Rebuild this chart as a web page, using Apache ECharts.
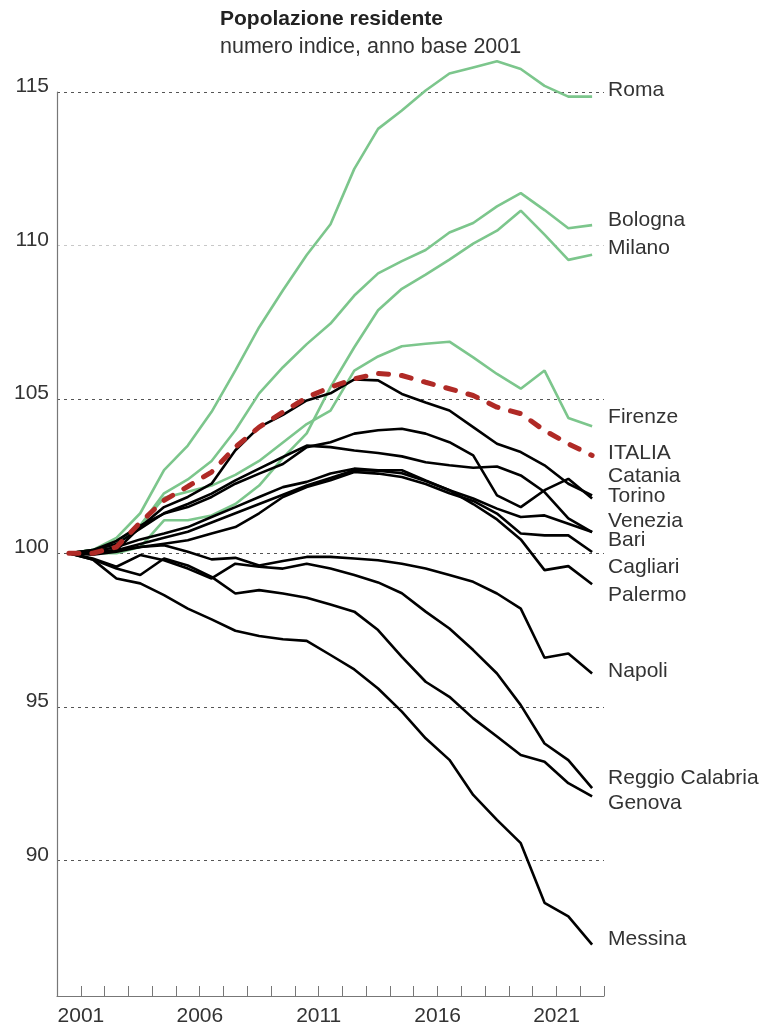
<!DOCTYPE html>
<html>
<head>
<meta charset="utf-8">
<script src="https://cdn.jsdelivr.net/npm/echarts@6/dist/echarts.min.js"></script>
<style>
html,body{margin:0;padding:0;background:#fff;}
#chart{width:767px;height:1028px;}
</style>
</head>
<body>
<div id="chart"></div>
<script>
const years = ['2001','2002','2003','2004','2005','2006','2007','2008','2009','2010','2011','2012','2013','2014','2015','2016','2017','2018','2019','2020','2021','2022','2023'];
const yTicks = [90, 95, 100, 105, 110, 115];

const roma     = [100,100.1,100.5,101.3,102.7,103.5,104.6,105.95,107.35,108.55,109.7,110.7,112.5,113.8,114.4,115.05,115.6,115.8,116.0,115.75,115.2,114.85,114.85];
const bologna  = [100,100.1,100.4,100.9,101.95,102.4,103.0,104.0,105.2,106.05,106.8,107.47,108.38,109.1,109.5,109.86,110.43,110.74,111.28,111.71,111.16,110.57,110.67];
const milano   = [100,100.0,100.0,100.2,101.07,101.07,101.23,101.6,102.2,103.1,103.9,105.4,106.7,107.9,108.6,109.06,109.55,110.07,110.49,111.14,110.36,109.54,109.71];
const firenze  = [100,100.1,100.3,100.9,101.8,102.0,102.2,102.55,103.0,103.6,104.2,104.64,105.94,106.4,106.73,106.81,106.88,106.37,105.83,105.35,105.94,104.4,104.13];
const italia   = [100,100.0,100.2,101.0,101.72,102.17,102.64,103.45,104.1,104.59,105.07,105.4,105.67,105.85,105.78,105.56,105.35,105.13,104.75,104.54,103.99,103.56,103.18];
const torino   = [100,100.0,100.1,100.85,101.5,101.83,102.26,103.35,104.1,104.5,104.97,105.2,105.65,105.62,105.18,104.9,104.64,104.1,103.56,103.29,102.86,102.26,101.88];
const catania  = [100,100.1,100.4,100.9,101.29,101.5,101.83,102.26,102.59,102.9,103.45,103.61,103.89,104.0,104.05,103.89,103.61,103.18,101.88,101.5,102.05,102.42,101.78];
const venezia  = [100,100.1,100.3,100.8,101.3,101.6,101.94,102.37,102.75,103.13,103.5,103.45,103.34,103.26,103.15,102.96,102.86,102.78,102.82,102.53,101.99,101.13,100.69];
const bari     = [100,100.05,100.2,100.45,100.64,100.85,101.18,101.5,101.83,102.15,102.32,102.59,102.75,102.7,102.7,102.37,102.05,101.78,101.45,101.18,101.23,100.96,100.69];
const cagliari = [100,100.0,100.1,100.2,100.31,100.42,100.64,100.85,101.3,101.83,102.15,102.37,102.64,102.59,102.48,102.25,101.95,101.7,101.29,100.64,100.58,100.58,100.04];
const palermo  = [100,100.0,100.1,100.3,100.5,100.7,101.0,101.3,101.6,101.9,102.2,102.45,102.7,102.68,102.6,102.35,102.05,101.6,101.1,100.45,99.45,99.58,98.99];
const napoli   = [100,99.95,100.05,100.2,100.26,100.05,99.8,99.85,99.6,99.75,99.88,99.88,99.83,99.77,99.66,99.5,99.29,99.07,98.69,98.2,96.6,96.74,96.09];
const reggio   = [100,99.83,99.56,99.94,99.77,99.5,99.18,99.66,99.56,99.5,99.66,99.5,99.29,99.05,98.7,98.1,97.55,96.85,96.09,95.06,93.81,93.27,92.36];
const genova   = [100,99.8,99.5,99.29,99.83,99.6,99.23,98.69,98.8,98.69,98.55,98.33,98.1,97.5,96.63,95.82,95.33,94.63,94.04,93.44,93.22,92.52,92.09];
const messina  = [100,99.8,99.18,99.02,98.64,98.2,97.85,97.48,97.31,97.2,97.15,96.69,96.22,95.6,94.85,93.98,93.28,92.14,91.33,90.57,88.63,88.19,87.27];

const FONT = 'Liberation Sans';
const GREEN = '#7cc68c';
const BLACK = '#000000';
const RED = '#b02a26';
const TEXT = '#333333';

// [name, data, kind, label vertical shift]
const defs = [
  ['Roma', roma, 'g', -6],
  ['Bologna', bologna, 'g', -5],
  ['Milano', milano, 'g', -6],
  ['Firenze', firenze, 'g', -9],
  ['Catania', catania, 'k', -22],
  ['Torino', torino, 'k', 1],
  ['Venezia', venezia, 'k', -11],
  ['Bari', bari, 'k', 8],
  ['Cagliari', cagliari, 'k', 15],
  ['Palermo', palermo, 'k', 11],
  ['Napoli', napoli, 'k', -2],
  ['Reggio Calabria', reggio, 'k', -10],
  ['Genova', genova, 'k', 7],
  ['Messina', messina, 'k', -5],
  ['ITALIA', italia, 'r', -2]
];

const series = defs.map(([name, data, kind, dy]) => {
  const ls = kind === 'g' ? {color: GREEN, width: 2.6}
           : kind === 'k' ? {color: BLACK, width: 2.6}
           : {color: RED, width: 5, type: [10, 13], cap: 'round'};
  return {
    name, type: 'line', data,
    symbol: 'none', smooth: false, clip: false,
    lineStyle: ls,
    z: kind === 'g' ? 2 : kind === 'k' ? 3 : 4,
    emphasis: {disabled: true},
    endLabel: {
      show: true, formatter: name, distance: 16, offset: [0, dy],
      color: TEXT, fontSize: 21, fontFamily: FONT
    }
  };
});

const chart = echarts.init(document.getElementById('chart'), null, {renderer: 'canvas'});
chart.setOption({
  animation: false,
  backgroundColor: '#fff',
  title: {
    text: 'Popolazione residente',
    subtext: 'numero indice, anno base 2001',
    left: 215, top: 4, itemGap: 6,
    textStyle: {fontFamily: FONT, fontSize: 21, fontWeight: 'bold', color: '#222'},
    subtextStyle: {fontFamily: FONT, fontSize: 21.5, color: TEXT}
  },
  grid: {left: 57, right: 163, top: 92, bottom: 32, containLabel: false},
  xAxis: {
    type: 'category', data: years, boundaryGap: true,
    axisLine: {show: true, lineStyle: {color: '#777', width: 1.2}},
    axisTick: {show: true, inside: true, length: 10, interval: 0, lineStyle: {color: '#777', width: 1}},
    axisLabel: {
      interval: 4, margin: 10, color: TEXT, fontSize: 21, fontFamily: FONT,
      padding: [0, 0, 0, 24]
    },
    splitLine: {show: false}
  },
  yAxis: {
    type: 'value', min: 85.6, max: 115, splitNumber: 6,
    axisLine: {show: true, lineStyle: {color: '#777', width: 1.2}},
    axisTick: {show: false},
    axisLabel: {
      margin: 8, color: TEXT, fontSize: 21, fontFamily: FONT,
      verticalAlign: 'bottom', lineHeight: 12,
      formatter: v => (yTicks.indexOf(v) >= 0 ? String(v) : '')
    },
    splitLine: {show: true, lineStyle: {color: ['#555','#555','#555','#555','#555','#c8c8c8','#555'], type: [3, 4], width: 1}}
  },
  series
});
</script>
</body>
</html>
